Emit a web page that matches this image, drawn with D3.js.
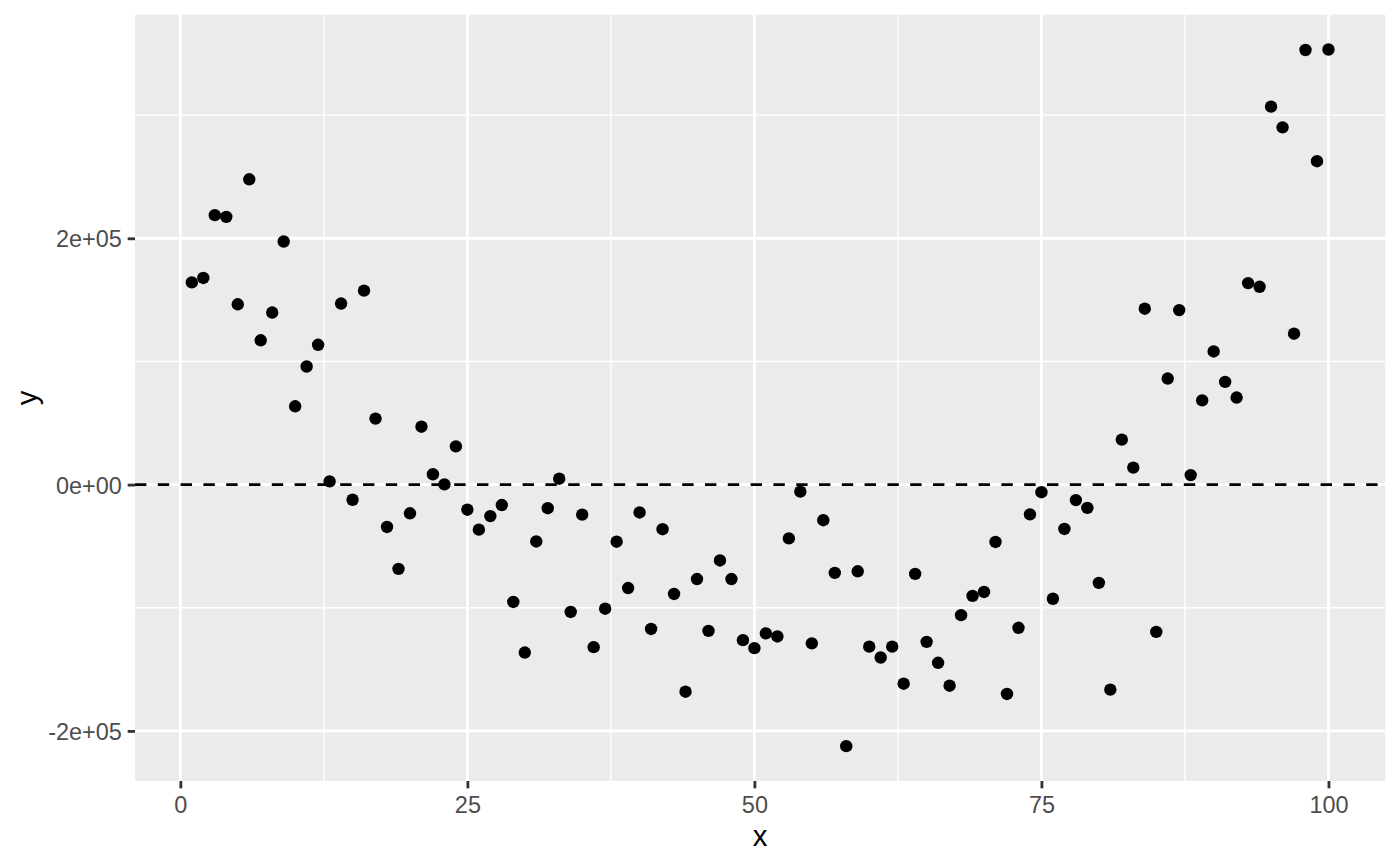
<!DOCTYPE html>
<html>
<head>
<meta charset="utf-8">
<script src="https://cdn.jsdelivr.net/npm/d3@7"></script>
<style>
  html, body { margin: 0; padding: 0; background: #ffffff; }
  svg { display: block; font-family: "Liberation Sans", Arial, Helvetica, sans-serif; }
</style>
</head>
<body>
<svg id="chart" width="1400" height="866"></svg>
<script>
// ---- data ----
const xValues = [
  1, 2, 3, 4, 5, 6, 7, 8, 9, 10,
  11, 12, 13, 14, 15, 16, 17, 18, 19, 20,
  21, 22, 23, 24, 25, 26, 27, 28, 29, 30,
  31, 32, 33, 34, 35, 36, 37, 38, 39, 40,
  41, 42, 43, 44, 45, 46, 47, 48, 49, 50,
  51, 52, 53, 54, 55, 56, 57, 58, 59, 60,
  61, 62, 63, 64, 65, 66, 67, 68, 69, 70,
  71, 72, 73, 74, 75, 76, 77, 78, 79, 80,
  81, 82, 83, 84, 85, 86, 87, 88, 89, 90,
  91, 92, 93, 94, 95, 96, 97, 98, 99, 100
];
const yValues = [
  164200, 167800, 218800, 217400, 146400, 247900, 117200, 139700, 197400, 63600,
  95900, 113500, 2600, 147000, -12300, 157500, 53600, -34400, -68400, -23300,
  47000, 8400, 200, 31000, -20400, -36600, -25600, -16600, -95300, -136400,
  -46200, -19200, 4800, -103400, -24400, -132000, -100800, -46400, -84000, -22600,
  -117200, -36200, -88800, -168200, -76700, -118800, -61600, -76700, -126300, -132800,
  -120800, -123300, -43700, -5700, -128900, -28900, -71700, -212400, -70400, -131600,
  -140400, -131600, -161700, -72500, -127700, -144700, -163300, -106000, -90400, -87200,
  -46600, -170000, -116300, -24200, -6200, -92700, -36000, -12600, -18900, -79800,
  -166500, 36500, 13800, 142800, -119600, 86100, 141700, 7700, 68400, 108100,
  83400, 70700, 163600, 160600, 306900, 290100, 122500, 352900, 262600, 353300
];
const refLine = 0;
const xTickValues = [0, 25, 50, 75, 100];
const xMinorValues = [12.5, 37.5, 62.5, 87.5];
const yTickValues = [-200000, 0, 200000];
const yMinorValues = [-100000, 100000, 300000];
const yTickLabels = ["-2e+05", "0e+00", "2e+05"];
const xTitle = "x";
const yTitle = "y";

// ---- layout (ggplot2 theme_grey at 192 dpi) ----
const W = 1400, H = 866;
const pt = 192 / 72;
const panel = { left: 135, right: 1385.3, top: 14.67, bottom: 781 };
const gridMajor = 2.84, gridMinor = 1.42;
const tickLen = 2.75 * pt;
const axisFont = 8.8 * pt;
const titleFont = 11 * pt;

const svg = d3.select("#chart");

function expand(ext) {
  const d = (ext[1] - ext[0]) * 0.05;
  return [ext[0] - d, ext[1] + d];
}
const x = d3.scaleLinear().domain(expand(d3.extent(xValues))).range([panel.left, panel.right]);
const y = d3.scaleLinear().domain(expand(d3.extent(yValues))).range([panel.bottom, panel.top]);

// panel background
svg.append("rect")
  .attr("x", panel.left).attr("y", panel.top)
  .attr("width", panel.right - panel.left).attr("height", panel.bottom - panel.top)
  .attr("fill", "#EBEBEB");

const grid = svg.append("g");
// minor grid
grid.selectAll(".ymin").data(yMinorValues).enter().append("line")
  .attr("x1", panel.left).attr("x2", panel.right)
  .attr("y1", d => y(d)).attr("y2", d => y(d))
  .attr("stroke", "#fff").attr("stroke-width", gridMinor);
grid.selectAll(".xmin").data(xMinorValues).enter().append("line")
  .attr("y1", panel.top).attr("y2", panel.bottom)
  .attr("x1", d => x(d)).attr("x2", d => x(d))
  .attr("stroke", "#fff").attr("stroke-width", gridMinor);
// major grid
grid.selectAll(".ymaj").data(yTickValues).enter().append("line")
  .attr("x1", panel.left).attr("x2", panel.right)
  .attr("y1", d => y(d)).attr("y2", d => y(d))
  .attr("stroke", "#fff").attr("stroke-width", gridMajor);
grid.selectAll(".xmaj").data(xTickValues).enter().append("line")
  .attr("y1", panel.top).attr("y2", panel.bottom)
  .attr("x1", d => x(d)).attr("x2", d => x(d))
  .attr("stroke", "#fff").attr("stroke-width", gridMajor);

// points
svg.append("g").selectAll("circle")
  .data(xValues.map((v, i) => ({ x: v, y: yValues[i] })))
  .enter().append("circle")
  .attr("cx", d => x(d.x)).attr("cy", d => y(d.y))
  .attr("r", 6.2).attr("fill", "#000");

// dashed reference line
svg.append("line")
  .attr("x1", panel.left).attr("x2", panel.right)
  .attr("y1", y(refLine)).attr("y2", y(refLine))
  .attr("stroke", "#000").attr("stroke-width", 2.84)
  .attr("stroke-dasharray", "11.4,11.4");

// x axis
const xAxis = d3.axisBottom(x).tickValues(xTickValues).tickSize(tickLen).tickPadding(2.2 * pt).tickFormat(d3.format("d"));
const gx = svg.append("g").attr("transform", `translate(0,${panel.bottom})`).call(xAxis);
gx.select(".domain").remove();
gx.selectAll(".tick line").attr("stroke", "#333333").attr("stroke-width", 2.84);
gx.selectAll(".tick text")
  .attr("fill", "#4D4D4D").attr("font-size", axisFont)
  .attr("font-family", "Liberation Sans, Arial, sans-serif")
  .attr("dy", null).attr("y", 812.5 - panel.bottom);

// y axis
const yAxis = d3.axisLeft(y).tickValues(yTickValues).tickSize(tickLen).tickPadding(2.2 * pt)
  .tickFormat((d, i) => yTickLabels[i]);
const gy = svg.append("g").attr("transform", `translate(${panel.left},0)`).call(yAxis);
gy.select(".domain").remove();
gy.selectAll(".tick line").attr("stroke", "#333333").attr("stroke-width", 2.84);
gy.selectAll(".tick text")
  .attr("fill", "#4D4D4D").attr("font-size", axisFont)
  .attr("font-family", "Liberation Sans, Arial, sans-serif")
  .attr("dy", null).attr("y", 0.716 * axisFont / 2);

// titles
svg.append("text")
  .attr("x", (panel.left + panel.right) / 2).attr("y", 845.5)
  .attr("text-anchor", "middle").attr("font-size", titleFont).attr("fill", "#000")
  .text(xTitle);
svg.append("text")
  .attr("transform", `translate(36.5,${(panel.top + panel.bottom) / 2}) rotate(-90)`)
  .attr("text-anchor", "middle").attr("font-size", titleFont).attr("fill", "#000")
  .text(yTitle);
</script>
</body>
</html>
